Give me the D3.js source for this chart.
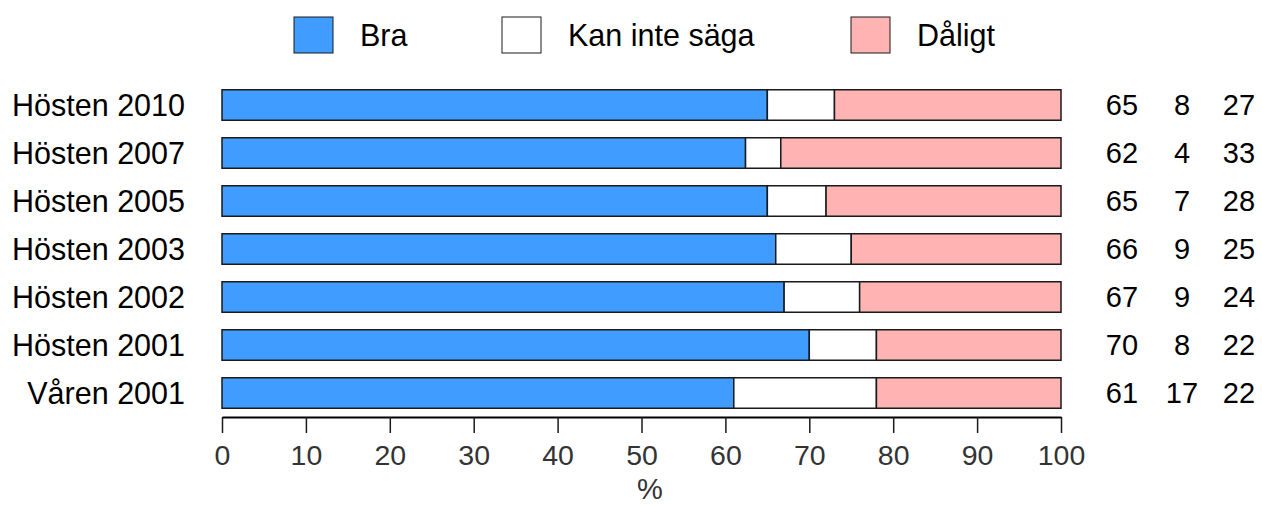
<!DOCTYPE html>
<html>
<head>
<meta charset="utf-8">
<script src="https://cdn.jsdelivr.net/npm/d3@7"></script>
<style>
  body { margin: 0; background: #fff; }
  text { font-family: "Liberation Sans", Arial, sans-serif; }
</style>
</head>
<body>
<div class="chart"></div>
<script>
// data, top row first
const periods = ['Hösten 2010', 'Hösten 2007', 'Hösten 2005', 'Hösten 2003', 'Hösten 2002', 'Hösten 2001', 'Våren 2001'];
const bra = [65, 62.4, 65, 66, 67, 70, 61];
const kanInte = [8, 4.2, 7, 9, 9, 8, 17];
const daligt = [27, 33.4, 28, 25, 24, 22, 22];
const seriesNames = ['Bra', 'Kan inte säga', 'Dåligt'];
const seriesColors = ['#409dff', '#ffffff', '#ffb3b3'];
const xTicks = [0, 10, 20, 30, 40, 50, 60, 70, 80, 90, 100];

const width = 1262;
const height = 506;

const rows = periods.map((p, i) => ({ period: p, values: [bra[i], kanInte[i], daligt[i]] }));

const svg = d3.select('.chart')
    .append('svg')
    .attr('width', width)
    .attr('height', height);

const xScale = d3.scaleLinear()
    .domain([0, 100])
    .range([222, 1061]);

const yScale = d3.scaleBand()
    .domain(periods)
    .range([81, 417])
    .paddingInner(0.365)
    .paddingOuter(0.1825);

// bars
rows.forEach(row => {
    let start = 0;
    row.values.forEach((v, k) => {
        svg.append('rect')
            .attr('x', xScale(start))
            .attr('y', yScale(row.period))
            .attr('width', xScale(start + v) - xScale(start))
            .attr('height', yScale.bandwidth())
            .attr('fill', seriesColors[k])
            .attr('stroke', '#1a1a1a')
            .attr('stroke-width', 1.5);
        start += v;
    });
});

// category labels
svg.selectAll('.cat')
    .data(periods)
    .enter()
    .append('text')
    .attr('class', 'cat')
    .attr('x', 185)
    .attr('y', d => yScale(d) + yScale.bandwidth() / 2)
    .attr('dy', '0.36em')
    .attr('text-anchor', 'end')
    .attr('font-size', 30.5)
    .attr('fill', '#000')
    .text(d => d);

// value columns on the right
const colX = [1122, 1182, 1239];
rows.forEach(row => {
    row.values.forEach((v, k) => {
        svg.append('text')
            .attr('x', colX[k])
            .attr('y', yScale(row.period) + yScale.bandwidth() / 2)
            .attr('dy', '0.36em')
            .attr('text-anchor', 'middle')
            .attr('font-size', 29)
            .attr('fill', '#000')
            .text(Math.round(v));
    });
});

// x axis
const xAxis = d3.axisBottom(xScale)
    .tickValues(xTicks)
    .tickSize(16)
    .tickPadding(12)
    .tickSizeOuter(0);

const axisG = svg.append('g')
    .attr('transform', 'translate(0,417)')
    .call(xAxis);

axisG.select('.domain').attr('stroke', '#000').attr('stroke-width', 2);
axisG.selectAll('.tick line').attr('stroke', '#1a1a1a').attr('stroke-width', 1.5);
axisG.selectAll('.tick text')
    .attr('font-size', 28.5)
    .attr('font-family', '"Liberation Sans", Arial, sans-serif')
    .attr('fill', '#333');

// axis title, kept just inside the bottom edge
svg.append('text')
    .attr('x', 650)
    .attr('y', 489)
    .attr('dy', '0.36em')
    .attr('text-anchor', 'middle')
    .attr('font-size', 29)
    .attr('fill', '#333')
    .text('%');

// legend
const legendX = [294, 502, 851];
seriesNames.forEach((name, k) => {
    svg.append('rect')
        .attr('x', legendX[k])
        .attr('y', 17)
        .attr('width', 39)
        .attr('height', 36)
        .attr('fill', seriesColors[k])
        .attr('stroke', '#1a1a1a')
        .attr('stroke-width', 1);
    svg.append('text')
        .attr('x', legendX[k] + 66)
        .attr('y', 35)
        .attr('dy', '0.36em')
        .attr('font-size', 30.5)
        .attr('fill', '#000')
        .text(name);
});
</script>
</body>
</html>
